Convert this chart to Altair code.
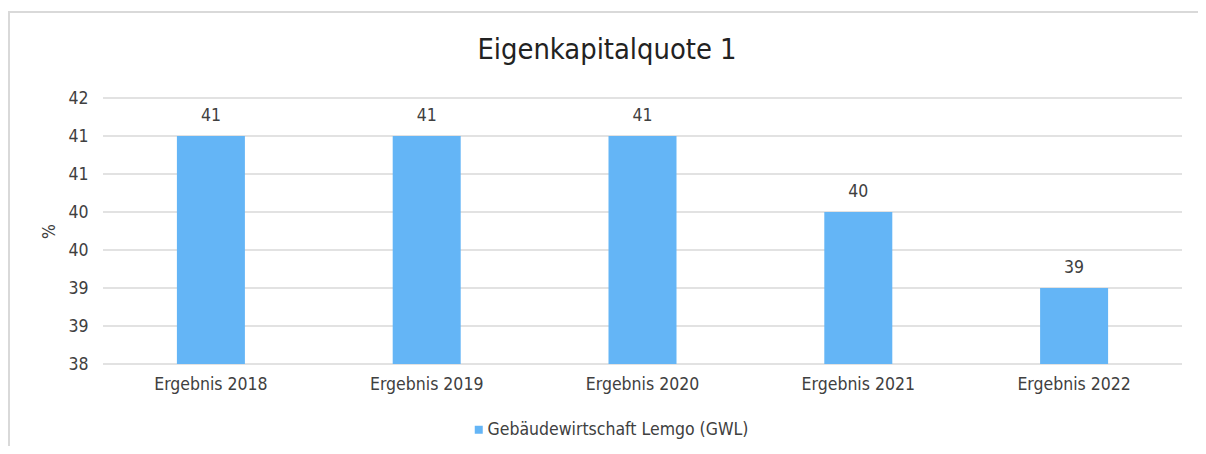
import altair as alt
import pandas as pd

categories = ["Ergebnis 2018", "Ergebnis 2019", "Ergebnis 2020", "Ergebnis 2021", "Ergebnis 2022"]
values = [41.5, 41.5, 41.5, 40.5, 39.5]
series_name = "Gebäudewirtschaft Lemgo (GWL)"
y_ticks = [38.5, 39.0, 39.5, 40.0, 40.5, 41.0, 41.5, 42.0]
y_min, y_max = 38.5, 42.0
title_text = "Eigenkapitalquote 1"

df = pd.DataFrame({"cat": categories, "val": values, "series": [series_name] * len(categories)})
grid_df = pd.DataFrame({"t": y_ticks})

FONT = "DejaVu Sans Condensed, DejaVu Sans"
FS = 17.5
TXT = "#404040"
GRID = "#D9D9D9"
BAR = "#64B5F6"

W, H = 1079, 266

yscale = alt.Scale(domain=[y_min, y_max], nice=False, zero=False)
yaxis = alt.Axis(values=y_ticks, labelExpr="floor(datum.value)", domain=False, ticks=False,
                 grid=False, labelOverlap=False,
                 labelPadding=15, labelFontSize=FS, labelColor=TXT, labelFont=FONT,
                 titleFont=FONT, titleFontSize=FS, titleFontWeight="normal", titleColor=TXT,
                 titlePadding=9)

grid = alt.Chart(grid_df).mark_rule(color=GRID, strokeWidth=1.6).encode(
    y=alt.Y("t:Q", scale=yscale, axis=yaxis, title="%"),
    x=alt.value(0), x2=alt.value(W),
)

base = alt.Chart(df)

bars = base.mark_bar(size=68, color=BAR).encode(
    x=alt.X("cat:N", sort=categories, title=None,
            axis=alt.Axis(labelAngle=0, domain=False, ticks=False, labelPadding=11,
                          labelFontSize=FS, labelColor=TXT, labelFont=FONT)),
    y=alt.Y("val:Q", scale=yscale, axis=yaxis, title="%"),
    y2=alt.Y2(datum=y_min),
    color=alt.Color("series:N", scale=alt.Scale(range=[BAR]),
                    legend=alt.Legend(title=None, orient="none", legendX=367, legendY=323,
                                      symbolType="square", symbolSize=64, symbolStrokeWidth=0,
                                      labelFontSize=FS, labelColor=TXT, labelFont=FONT,
                                      labelOffset=0, labelLimit=0)),
)

labels = base.mark_text(baseline="alphabetic", dy=-15, fontSize=FS, color=TXT, font=FONT).encode(
    x=alt.X("cat:N", sort=categories),
    y=alt.Y("val:Q", scale=yscale, axis=yaxis, title="%"),
    text=alt.Text("label:N"),
).transform_calculate(label="floor(datum.val)")

one = pd.DataFrame({"a": [0]})
frame_top = alt.Chart(one).mark_rule(color=GRID, strokeWidth=2, clip=False).encode(
    x=alt.value(-95), x2=alt.value(1120), y=alt.value(-86))
frame_left = alt.Chart(one).mark_rule(color=GRID, strokeWidth=2, clip=False).encode(
    x=alt.value(-94), y=alt.value(-86), y2=alt.value(360))
title = alt.Chart(pd.DataFrame({"title": [title_text]})).mark_text(
    fontSize=28.8, font=FONT, color="#222222", baseline="alphabetic", align="center").encode(
    x=alt.value(504), y=alt.value(-39), text="title:N")

chart = alt.layer(grid, frame_top, frame_left, bars, labels, title).properties(
    width=W, height=H,
    autosize=alt.AutoSizeParams(type="none"),
    padding={"left": 95, "top": 90, "right": 16, "bottom": 82},
).configure_view(stroke=None)

chart.save("out.html", embed_options={"renderer": "svg", "actions": False})
